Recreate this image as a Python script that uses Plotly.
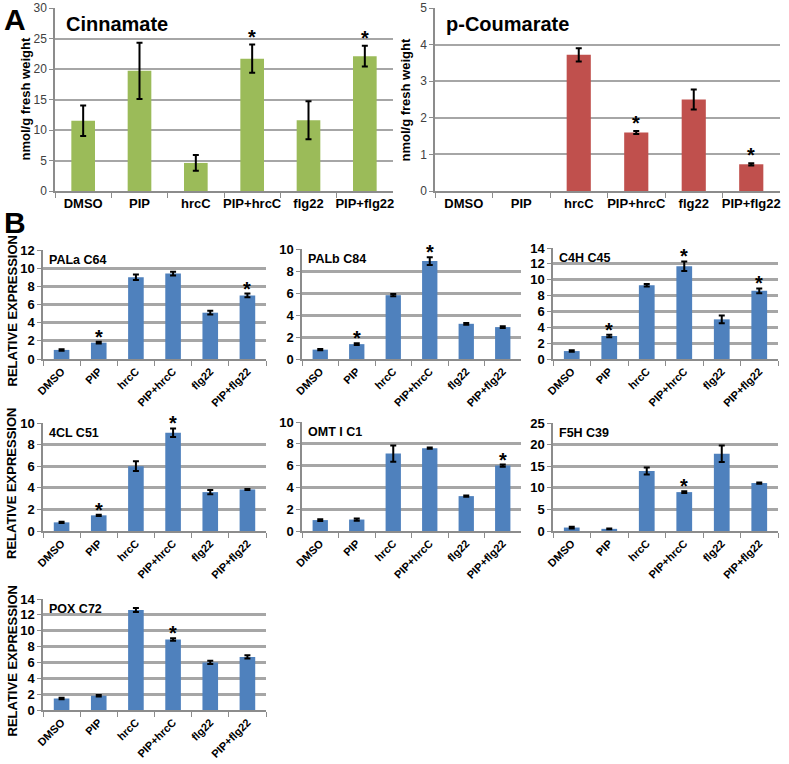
import plotly.graph_objects as go

cats = ["DMSO", "PIP", "hrcC", "PIP+hrcC", "flg22", "PIP+flg22"]

# Panel A
cinnamate = [11.5, 19.7, 4.6, 21.7, 11.6, 22.1]
cinnamate_err = [2.5, 4.6, 1.3, 2.3, 3.1, 1.7]
cinnamate_sig = [0, 0, 0, 1, 0, 1]

coumarate = [0, 0, 3.72, 1.6, 2.5, 0.73]
coumarate_err = [0, 0, 0.18, 0.04, 0.27, 0.03]
coumarate_sig = [0, 0, 0, 1, 0, 1]

# Panel B
pala = [1.0, 1.8, 9.0, 9.4, 5.1, 7.0]
pala_err = [0.08, 0.1, 0.3, 0.2, 0.2, 0.2]
pala_sig = [0, 1, 0, 0, 0, 1]

palb = [0.85, 1.35, 5.8, 8.9, 3.2, 2.9]
palb_err = [0.05, 0.08, 0.1, 0.35, 0.08, 0.08]
palb_sig = [0, 1, 0, 1, 0, 0]

c4h = [1.0, 2.9, 9.3, 11.7, 5.0, 8.6]
c4h_err = [0.1, 0.15, 0.15, 0.6, 0.5, 0.3]
c4h_sig = [0, 1, 0, 1, 0, 1]

cl4 = [0.8, 1.45, 6.0, 9.1, 3.6, 3.85]
cl4_err = [0.05, 0.06, 0.45, 0.4, 0.2, 0.05]
cl4_sig = [0, 1, 0, 1, 0, 0]

omt = [1.0, 1.05, 7.1, 7.6, 3.2, 6.0]
omt_err = [0.08, 0.1, 0.75, 0.05, 0.05, 0.1]
omt_sig = [0, 0, 0, 0, 0, 1]

f5h = [0.8, 0.5, 13.9, 9.0, 17.9, 11.1]
f5h_err = [0.2, 0.1, 0.8, 0.2, 1.9, 0.15]
f5h_sig = [0, 0, 0, 1, 0, 0]

pox = [1.45, 1.8, 12.6, 8.9, 6.0, 6.7]
pox_err = [0.08, 0.1, 0.25, 0.15, 0.2, 0.2]
pox_sig = [0, 0, 0, 1, 0, 0]

W, H = 789, 764
GREEN, RED, BLUE = "#9BBB59", "#C0504D", "#4F81BD"
ARIAL = "Liberation Sans, Arial"


def px_x(v):
    return v / W


def px_y(v):
    return 1 - v / H


panels = [
    # title, values, errs, sig, color, ymax, dtick, x px, y px, kind
    ("Cinnamate", cinnamate, cinnamate_err, cinnamate_sig, GREEN, 30, 5, (55, 393), (8, 191), "A"),
    ("p-Coumarate", coumarate, coumarate_err, coumarate_sig, RED, 5, 1, (435, 780), (8, 191), "A"),
    ("PALa C64", pala, pala_err, pala_sig, BLUE, 12, 2, (43, 266), (250, 359), "B"),
    ("PALb C84", palb, palb_err, palb_sig, BLUE, 10, 2, (302, 521), (249, 359), "B"),
    ("C4H C45", c4h, c4h_err, c4h_sig, BLUE, 14, 2, (553, 778), (248, 359), "B"),
    ("4CL C51", cl4, cl4_err, cl4_sig, BLUE, 10, 2, (43, 266), (423, 531), "B"),
    ("OMT I C1", omt, omt_err, omt_sig, BLUE, 10, 2, (302, 521), (422, 531), "B"),
    ("F5H C39", f5h, f5h_err, f5h_sig, BLUE, 25, 5, (553, 778), (423, 531), "B"),
    ("POX C72", pox, pox_err, pox_sig, BLUE, 14, 2, (43, 266), (599, 710), "B"),
]

fig = go.Figure()
layout = dict(
    width=W, height=H, margin=dict(l=0, r=0, t=0, b=0, autoexpand=False),
    paper_bgcolor="white", plot_bgcolor="white", showlegend=False,
    bargap=0.58,
)
annotations = []

for i, (title, vals, errs, sig, color, ymax, dtick, xp, yp, kind) in enumerate(panels):
    n = i + 1
    xs = "" if n == 1 else str(n)
    xref, yref = "x" + xs, "y" + xs
    fig.add_trace(go.Bar(
        x=cats, y=vals, marker=dict(color=color, line=dict(width=0)),
        xaxis=xref, yaxis=yref, hoverinfo="skip",
    ))
    # error bars only where a bar exists
    ex = [c for c, v in zip(cats, vals) if v > 0]
    ey = [v for v in vals if v > 0]
    ee = [e for v, e in zip(vals, errs) if v > 0]
    fig.add_trace(go.Scatter(
        x=ex, y=ey, mode="markers", marker=dict(size=1, opacity=0),
        error_y=dict(type="data", array=ee, visible=True, color="black",
                     thickness=2, width=3),
        xaxis=xref, yaxis=yref, hoverinfo="skip",
    ))
    isA = kind == "A"
    gridw = 1.5 if isA else 2.5
    layout["xaxis" + xs] = dict(
        domain=[px_x(xp[0]), px_x(xp[1])], anchor=yref, automargin=False,
        categoryorder="array", categoryarray=cats,
        showline=True, linecolor="#8C8C8C", linewidth=1.5,
        ticks="outside", tickson="boundaries", ticklen=5, tickcolor="#8C8C8C",
        tickangle=0 if isA else -45,
        tickfont=dict(family=ARIAL, size=13 if isA else 11,
                      color="black", weight="bold"),
        showgrid=False, fixedrange=True,
    )
    layout["yaxis" + xs] = dict(
        domain=[px_y(yp[1]), px_y(yp[0])], anchor=xref, automargin=False,
        range=[0, ymax], dtick=dtick, tick0=0,
        showline=True, linecolor="#8C8C8C", linewidth=1.5,
        ticks="outside", ticklen=4, tickcolor="#8C8C8C",
        showgrid=True, gridcolor="#A6A6A6", gridwidth=gridw, zeroline=False,
        tickfont=dict(family=ARIAL, size=12 if isA else 13,
                      color="#404040" if isA else "black",
                      weight="normal" if isA else "bold"),
        fixedrange=True,
    )
    if isA:
        annotations.append(dict(
            text=title, xref="paper", yref="paper",
            x=px_x(xp[0] + 9), y=px_y(yp[0] + 16), xanchor="left", yanchor="middle",
            showarrow=False, font=dict(family=ARIAL, size=20, color="black", weight="bold"),
        ))
        annotations.append(dict(
            text="nmol/g fresh weight", xref="paper", yref="paper",
            x=px_x(xp[0] - 30), y=(px_y(yp[0]) + px_y(yp[1])) / 2,
            xanchor="center", yanchor="middle", textangle=-90, showarrow=False,
            font=dict(family=ARIAL, size=13, color="black", weight="bold"),
        ))
    else:
        annotations.append(dict(
            text=title, xref="paper", yref="paper",
            x=px_x(xp[0] + 4), y=px_y(yp[0] + 10), xanchor="left", yanchor="middle",
            showarrow=False,
            font=dict(family=ARIAL, size=12.5, color="black", weight="bold"),
        ))
        if xp[0] < 100:
            annotations.append(dict(
                text="RELATIVE EXPRESSION", xref="paper", yref="paper",
                x=px_x(12), y=px_y((yp[0] + yp[1]) / 2 + 7),
                xanchor="center", yanchor="middle", textangle=-90, showarrow=False,
                font=dict(family=ARIAL, size=13, color="black", weight="bold"),
            ))
    for c, v, e, s in zip(cats, vals, errs, sig):
        if s:
            annotations.append(dict(
                text="*", xref=xref, yref=yref, x=c, y=v + e,
                xanchor="center", yanchor="bottom", yshift=-5 if isA else -8,
                showarrow=False,
                font=dict(family=ARIAL, size=20, color="black", weight="bold"),
            ))

annotations.append(dict(
    text="A", xref="paper", yref="paper", x=px_x(2), y=px_y(20),
    xanchor="left", yanchor="middle", showarrow=False,
    font=dict(family=ARIAL, size=30, color="black", weight="bold"),
))
annotations.append(dict(
    text="B", xref="paper", yref="paper", x=px_x(2), y=px_y(222),
    xanchor="left", yanchor="middle", showarrow=False,
    font=dict(family=ARIAL, size=30, color="black", weight="bold"),
))

layout["annotations"] = annotations
fig.update_layout(**layout)
fig.write_html(
    "out.html",
    config={"displayModeBar": False},
    post_script="document.body.style.margin='0';document.body.style.overflow='hidden';",
)
